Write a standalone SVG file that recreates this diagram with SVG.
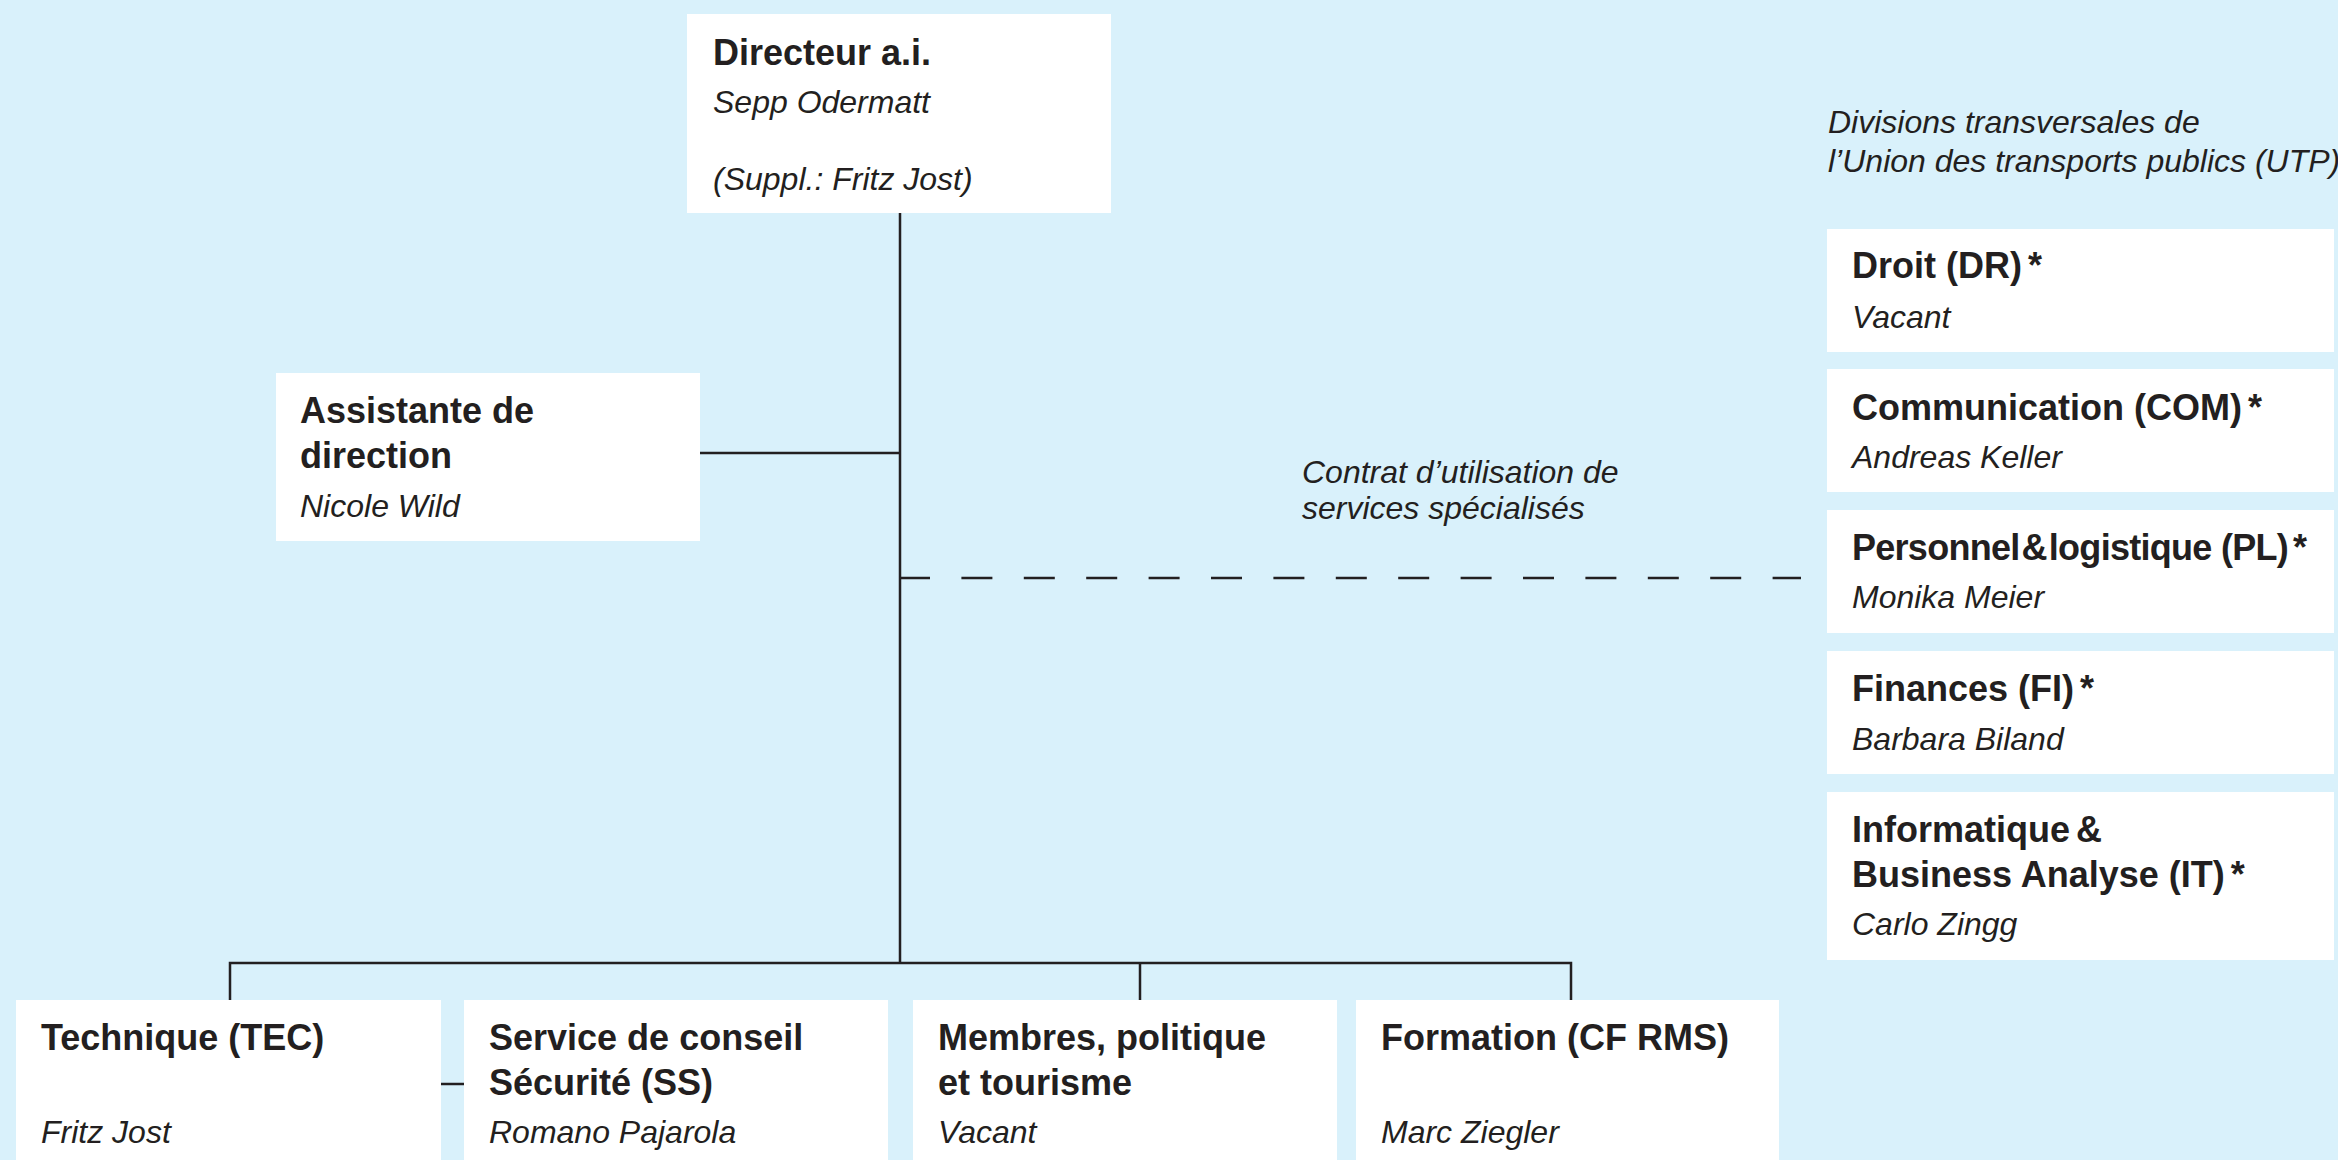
<svg xmlns="http://www.w3.org/2000/svg" width="2338" height="1160" viewBox="0 0 2338 1160">
<style>
.box{fill:#ffffff}
.b{font-family:"Liberation Sans",Arial,sans-serif;font-weight:bold;font-size:36px;fill:#231f20}
.i{font-family:"Liberation Sans",Arial,sans-serif;font-style:italic;font-size:32px;fill:#231f20}
.ln{stroke:#231f20;stroke-width:2.5;fill:none}
.dash{stroke:#231f20;stroke-width:2.5;fill:none;stroke-dasharray:31 31.4}
</style>
<rect x="0" y="0" width="2338" height="1160" fill="#d9f1fb"/>
<g id="connectors">
<line class="ln" x1="900" y1="213" x2="900" y2="964"/>
<line class="ln" x1="700" y1="453" x2="900" y2="453"/>
<path class="ln" d="M230 1000 V963 H1571 V1000"/>
<line class="ln" x1="1140" y1="963" x2="1140" y2="1000"/>
<line class="ln" x1="441" y1="1084" x2="464" y2="1084"/>
<line class="dash" x1="899" y1="578" x2="1801" y2="578"/>
</g>
<g id="directeur">
<rect class="box" x="687" y="14" width="424" height="199"/>
<text class="b" x="713" y="65">Directeur a.i.</text>
<text class="i" x="713" y="113">Sepp Odermatt</text>
<text class="i" x="713" y="190">(Suppl.: Fritz Jost)</text>
</g>
<g id="assistante">
<rect class="box" x="276" y="373" width="424" height="168"/>
<text class="b" x="300" y="423">Assistante de</text>
<text class="b" x="300" y="468">direction</text>
<text class="i" x="300" y="517">Nicole Wild</text>
</g>
<g id="contrat-label">
<text class="i" x="1302" y="483">Contrat d’utilisation de</text>
<text class="i" x="1302" y="519">services spécialisés</text>
</g>
<g id="utp-label">
<text class="i" x="1828" y="133">Divisions transversales de</text>
<text class="i" x="1828" y="172">l’Union des transports publics (UTP)</text>
</g>
<g id="droit">
<rect class="box" x="1827" y="229" width="507" height="123"/>
<text class="b" x="1852" y="278">Droit (DR)<tspan dx="6">*</tspan></text>
<text class="i" x="1852" y="328">Vacant</text>
</g>
<g id="communication">
<rect class="box" x="1827" y="369" width="507" height="123"/>
<text class="b" x="1852" y="420">Communication (COM)<tspan dx="6">*</tspan></text>
<text class="i" x="1852" y="468">Andreas Keller</text>
</g>
<g id="personnel">
<rect class="box" x="1827" y="510" width="507" height="123"/>
<text class="b" x="1852" y="560" textLength="455" lengthAdjust="spacing">Personnel<tspan dx="2">&amp;</tspan><tspan dx="2">logistique (PL)</tspan><tspan dx="5">*</tspan></text>
<text class="i" x="1852" y="608">Monika Meier</text>
</g>
<g id="finances">
<rect class="box" x="1827" y="651" width="507" height="123"/>
<text class="b" x="1852" y="701">Finances (FI)<tspan dx="6">*</tspan></text>
<text class="i" x="1852" y="750">Barbara Biland</text>
</g>
<g id="informatique">
<rect class="box" x="1827" y="792" width="507" height="168"/>
<text class="b" x="1852" y="842">Informatique<tspan dx="6">&amp;</tspan></text>
<text class="b" x="1852" y="887">Business Analyse (IT)<tspan dx="6">*</tspan></text>
<text class="i" x="1852" y="935">Carlo Zingg</text>
</g>
<g id="technique">
<rect class="box" x="16" y="1000" width="425" height="160"/>
<text class="b" x="41" y="1050">Technique (TEC)</text>
<text class="i" x="41" y="1143">Fritz Jost</text>
</g>
<g id="securite">
<rect class="box" x="464" y="1000" width="424" height="160"/>
<text class="b" x="489" y="1050">Service de conseil</text>
<text class="b" x="489" y="1095">Sécurité (SS)</text>
<text class="i" x="489" y="1143">Romano Pajarola</text>
</g>
<g id="membres">
<rect class="box" x="913" y="1000" width="424" height="160"/>
<text class="b" x="938" y="1050">Membres, politique</text>
<text class="b" x="938" y="1095">et tourisme</text>
<text class="i" x="938" y="1143">Vacant</text>
</g>
<g id="formation">
<rect class="box" x="1356" y="1000" width="423" height="160"/>
<text class="b" x="1381" y="1050">Formation (CF RMS)</text>
<text class="i" x="1381" y="1143">Marc Ziegler</text>
</g>
</svg>
